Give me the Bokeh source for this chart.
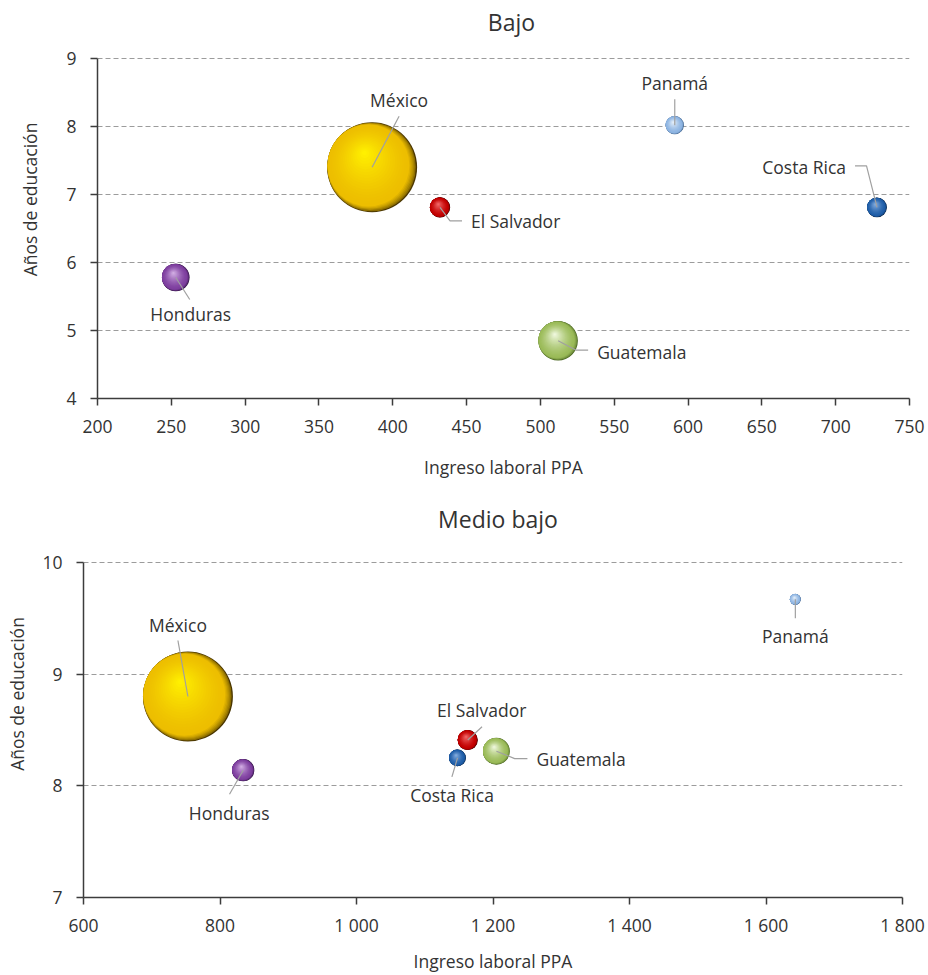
import numpy as np
from bokeh.plotting import figure
from bokeh.layouts import column
from bokeh.models import FixedTicker, Range1d
from bokeh.core.properties import value
from bokeh.embed import file_html
from bokeh.resources import INLINE

# ---------------- data ----------------
paises = ["Honduras", "México", "El Salvador", "Guatemala", "Panamá", "Costa Rica"]

# Bajo
ingreso_bajo = [253, 386, 432, 512, 591, 728]
educ_bajo = [5.78, 7.40, 6.81, 4.85, 8.02, 6.81]
peso_bajo = [9.4, 100.0, 5.1, 19.2, 4.1, 4.8]

# Medio bajo
ingreso_mb = [834, 753, 1163, 1205, 1643, 1148]
educ_mb = [8.14, 8.80, 8.41, 8.31, 9.67, 8.25]
peso_mb = [6.1, 100.0, 5.0, 8.9, 1.5, 3.5]

x_ticks_bajo = [200, 250, 300, 350, 400, 450, 500, 550, 600, 650, 700, 750]
x_labels_bajo = ["200", "250", "300", "350", "400", "450", "500", "550", "600", "650", "700", "750"]
y_ticks_bajo = [4, 5, 6, 7, 8, 9]

x_ticks_mb = [600, 800, 1000, 1200, 1400, 1600, 1800]
x_labels_mb = ["600", "800", "1 000", "1 200", "1 400", "1 600", "1 800"]
y_ticks_mb = [7, 8, 9, 10]

# ---------------- styles ----------------
FONT = "Open Sans"
TXT = "#333333"
R_MAX = 45.0

colores = {
    "Honduras":    ("#7E3F9F", "#D2AEE3", "#2A0F3C"),
    "México":      ("#EDBE00", "#FFF000", "#4A3600"),
    "El Salvador": ("#C20000", "#F26A6A", "#420000"),
    "Guatemala":   ("#9BBB59", "#EEF7DC", "#4A6622"),
    "Panamá":      ("#8DB4E2", "#E6F0FA", "#3A5B82"),
    "Costa Rica":  ("#1F5EA8", "#86AEE0", "#0A2444"),
}

# label layout: (dx, dy) pixel offset from bubble centre, alignment, leader polyline (px)
lay_bajo = {
    "Honduras":    (15, 37, "center", [(0, 0), (14, 22)]),
    "México":      (27, -67, "center", [(0, 0), (27, -51)]),
    "El Salvador": (31, 14, "left", [(0, 0), (10, 13.5), (22, 13.5)]),
    "Guatemala":   (39, 11, "left", [(0, 0), (18, 9.5), (30, 9.5)]),
    "Panamá":      (0, -42, "center", [(0, 0), (0, -26)]),
    "Costa Rica":  (-31, -40, "right", [(0, 0), (-10.5, -41.5), (-22, -41.5)]),
}
lay_mb = {
    "Honduras":    (-14, 43, "center", [(0, 0), (-13.7, 24)]),
    "México":      (-10, -72, "center", [(0, 0), (-10, -56)]),
    "El Salvador": (14, -30, "center", [(0, 0), (14.3, -13.3)]),
    "Guatemala":   (40, 8, "left", [(0, 0), (18.3, 7.4), (31, 7.4)]),
    "Panamá":      (0, 37, "center", [(0, 0), (0, 19)]),
    "Costa Rica":  (-5.5, 37, "center", [(0, 0), (-5.6, 19)]),
}


def hex2rgb(h):
    h = h.lstrip("#")
    return np.array([int(h[i:i + 2], 16) for i in (0, 2, 4)], dtype=float)


def mix(c1, c2, t):
    a, b = hex2rgb(c1), hex2rgb(c2)
    c = a + (b - a) * t
    return "#%02x%02x%02x" % tuple(int(round(v)) for v in c)


def sphere(cx, cy, R, base, light, dark, ppx, ppy):
    xs, ys, ss, cs = [], [], [], []

    def add(ox, oy, r, col):
        xs.append(cx + ox / ppx)
        ys.append(cy - oy / ppy)
        ss.append(2 * r)
        cs.append(col)

    s = 0.09
    d = np.array([-0.9, -0.44])
    d = d / np.linalg.norm(d)
    K1 = 7
    for i in range(K1):
        t = i / (K1 - 1)
        add(d[0] * s * R * t, d[1] * s * R * t, R * (1 - s * t), mix(dark, base, t ** 0.5))
    c0 = d * s * R
    h = np.array([-0.17 * R, -0.32 * R])
    r0, r1 = (1 - s) * R, 0.05 * R
    K2 = 18
    for i in range(1, K2 + 1):
        t = i / K2
        c = c0 + (h - c0) * t
        add(c[0], c[1], r0 + (r1 - r0) * t, mix(base, light, t ** 1.4))
    return xs, ys, ss, cs


def make_chart(title, xs, ys, pesos, xr, yr, xt, xl, yt, geom, lay, title_pos,
               xstd, xlab_std, ylab_std):
    left, right, top, bottom, fw, fh = geom
    ppx = fw / (xr[1] - xr[0])
    ppy = fh / (yr[1] - yr[0])
    # the frame also covers the title band above the plotting area
    y_top = yr[1] + top / ppy
    p = figure(title=None, width=left + fw + right, height=top + fh + bottom,
               frame_width=fw, frame_height=top + fh,
               x_range=Range1d(*xr), y_range=Range1d(yr[0], y_top),
               output_backend="svg", toolbar_location=None,
               min_border_left=left, min_border_right=right,
               min_border_top=0, min_border_bottom=bottom)
    p.frame_align = False
    p.outline_line_color = None
    p.background_fill_color = "white"
    p.border_fill_color = "white"

    # chart title (pixel offsets from the plotting area's top-centre)
    tdx, tdy = title_pos
    p.text(x=[(xr[0] + xr[1]) / 2 + tdx / ppx], y=[yr[1] + tdy / ppy], text=[title],
           text_align="center", text_baseline="middle",
           text_font=value(FONT), text_font_size=value("23px"), text_color=TXT)

    p.xaxis.ticker = FixedTicker(ticks=xt)
    p.xaxis.major_label_overrides = {t: l for t, l in zip(xt, xl)}
    p.yaxis.ticker = FixedTicker(ticks=yt)
    p.yaxis.bounds = (yr[0], yr[1])
    p.xaxis.axis_label = "Ingreso laboral PPA"
    p.yaxis.axis_label = "Años de educación"
    for ax in (p.xaxis[0], p.yaxis[0]):
        ax.axis_line_color = "#3c3c3c"
        ax.axis_line_width = 1.5
        ax.major_tick_line_color = "#3c3c3c"
        ax.major_tick_line_width = 1.5
        ax.major_tick_out = 7
        ax.major_tick_in = 0
        ax.minor_tick_line_color = None
        ax.major_label_text_font = FONT
        ax.major_label_text_font_size = "17.5px"
        ax.major_label_text_color = TXT
        ax.axis_label_text_font = FONT
        ax.axis_label_text_font_size = "17.5px"
        ax.axis_label_text_font_style = "normal"
        ax.axis_label_text_color = TXT
    p.xaxis.major_label_standoff = xstd
    p.xaxis.axis_label_standoff = xlab_std
    p.yaxis.major_label_standoff = 14
    p.yaxis.axis_label_standoff = ylab_std

    p.xgrid.visible = False
    p.ygrid.ticker = FixedTicker(ticks=yt)
    p.ygrid.grid_line_color = "#9c9c9c"
    p.ygrid.grid_line_dash = "5 3"
    p.ygrid.grid_line_width = 1

    pmax = max(pesos)
    radii = [R_MAX * np.sqrt(w / pmax) for w in pesos]

    order = sorted(range(len(paises)), key=lambda i: -radii[i])
    for i in order:
        base, light, dark = colores[paises[i]]
        bx, by, bs, bc = sphere(xs[i], ys[i], radii[i], base, light, dark, ppx, ppy)
        p.scatter(x=bx, y=by, size=bs, fill_color=bc, line_color=None, marker="circle")

    for i, name in enumerate(paises):
        dx, dy, align, pts = lay[name]
        lx = [xs[i] + a / ppx for a, b in pts]
        ly = [ys[i] - b / ppy for a, b in pts]
        p.line(x=lx, y=ly, line_color="#a0a0a0", line_width=1.2)
    for i, name in enumerate(paises):
        dx, dy, align, pts = lay[name]
        p.text(x=[xs[i] + dx / ppx], y=[ys[i] - dy / ppy], text=[name],
               text_align=align, text_baseline="middle",
               text_font=value(FONT), text_font_size=value("17.5px"),
               text_color=TXT)
    return p


p1 = make_chart("Bajo", ingreso_bajo, educ_bajo, peso_bajo, (200, 750), (4, 9),
                x_ticks_bajo, x_labels_bajo, y_ticks_bajo,
                (97, 19, 58, 92, 812, 340), lay_bajo, (8, 37), 14, 19, 21)
p2 = make_chart("Medio bajo", ingreso_mb, educ_mb, peso_mb, (600, 1800), (7, 10),
                x_ticks_mb, x_labels_mb, y_ticks_mb,
                (83, 26, 72, 78, 819, 335), lay_mb, (5, 44), 8, 9, 10)

layout = column(p1, p2, spacing=0)
open("out.html", "w").write(file_html(layout, INLINE))
